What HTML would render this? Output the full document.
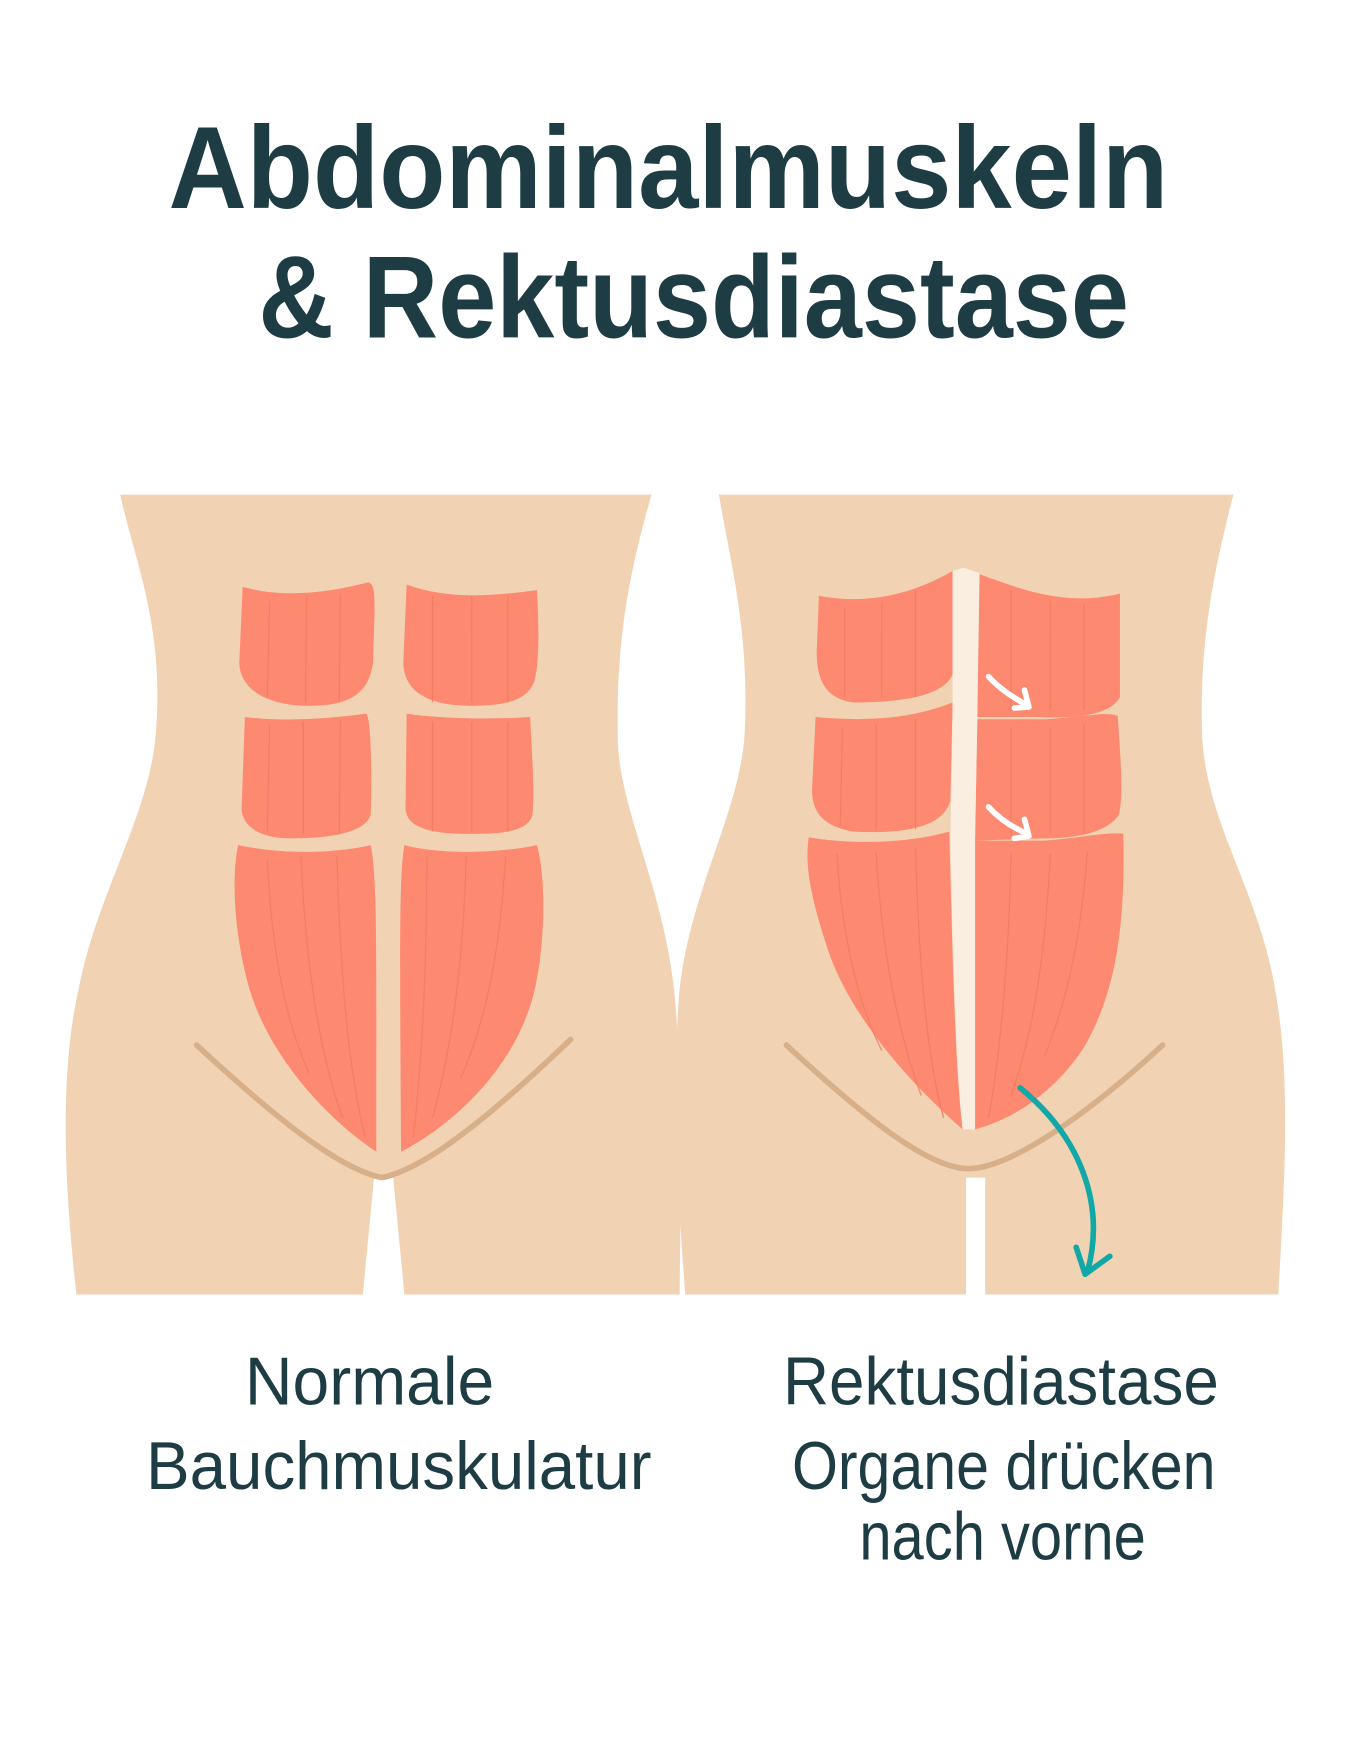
<!DOCTYPE html>
<html><head><meta charset="utf-8"><style>
html,body{margin:0;padding:0;background:#fff}
svg{display:block}
</style></head><body>
<svg width="1348" height="1761" viewBox="0 0 1200 1567" xmlns="http://www.w3.org/2000/svg">
<rect width="1200" height="1567" fill="#fff"/>
<g font-family="Liberation Sans, sans-serif" fill="#1d3c44">
<text x="150" y="185" font-size="104" font-weight="bold" textLength="890" lengthAdjust="spacingAndGlyphs">Abdominalmuskeln</text>
<text x="230" y="300" font-size="104" font-weight="bold" textLength="775" lengthAdjust="spacingAndGlyphs">&amp; Rektusdiastase</text>
<g font-size="60">
<text x="218" y="1250" textLength="222" lengthAdjust="spacingAndGlyphs">Normale</text>
<text x="130" y="1325" textLength="450" lengthAdjust="spacingAndGlyphs">Bauchmuskulatur</text>
<text x="697" y="1250" textLength="388" lengthAdjust="spacingAndGlyphs">Rektusdiastase</text>
<text x="705" y="1325" textLength="377" lengthAdjust="spacingAndGlyphs">Organe drücken</text>
<text x="765" y="1388" textLength="255" lengthAdjust="spacingAndGlyphs">nach vorne</text>
</g></g>
<path fill="#f1d3b4" d="M107,440 L580,440 C560,510 548,570 550,660 C552,720 590,790 600,880 C608,960 606,1060 605,1152 L360,1152 L350,1048 L333,1048 L323,1152 L68,1152 C58,1060 52,960 70,880 C85,800 130,730 138,660 C148,560 120,500 107,440 Z"/>
<path fill="#f1d3b4" d="M640,440 L1098,440 C1080,510 1068,570 1070,650 C1072,730 1120,790 1135,880 C1150,960 1143,1060 1138,1152 L877,1152 L877,1048 L860,1048 L860,1152 L610,1152 C603,1060 598,960 605,880 C615,790 660,720 663,650 C667,560 650,500 640,440 Z"/>
<g fill="none" stroke="#d7b08a" stroke-width="5" stroke-linecap="round">
<path d="M175,930 C240,990 300,1040 340,1048 C380,1040 440,990 508,925"/>
<path d="M700,930 C765,990 825,1040 862,1040 C900,1040 970,990 1035,930"/>
</g>
<g fill="#fd8a70">
<path d="M216,522 C250,532 290,528 328,518 C334,520 334,530 333,560 L332,590 C328,618 310,628 275,628 C240,628 214,615 213,590 Z"/>
<path d="M362,520 C400,534 440,530 478,525 C480,560 480,590 476,605 C470,625 445,628 420,628 C380,628 360,615 359,590 Z"/>
<path d="M218,638 C250,642 290,640 326,635 C331,640 331,700 330,725 C325,742 290,746 260,746 C230,746 216,735 215,720 Z"/>
<path d="M362,635 C395,640 440,640 472,638 C474,680 476,705 474,725 C470,742 440,742 415,742 C380,742 362,735 361,720 Z"/>
<path d="M212,752 C250,760 295,760 330,752 C336,780 335,850 335,1025 C290,995 240,940 222,880 C208,830 206,780 212,752 Z"/>
<path d="M360,752 C390,760 440,760 478,752 C486,780 486,840 475,885 C458,950 405,1000 357,1025 C356,850 355,780 360,752 Z"/>
<path d="M729,530 C770,538 810,530 848,508 L848,600 C840,620 800,625 760,625 C735,622 727,605 727,580 Z"/>
<path d="M870,510 C910,525 950,540 997,528 L997,620 C990,635 960,640 925,638 L870,638 Z"/>
<path d="M726,638 C770,642 810,640 848,625 L846,712 C840,738 800,742 760,740 C730,735 722,720 723,700 Z"/>
<path d="M870,640 L925,640 C950,640 985,632 995,637 C998,680 1000,710 996,725 C985,742 955,746 930,746 L868,748 Z"/>
<path d="M720,745 C760,752 810,750 845,740 C848,850 850,950 857,1005 C805,960 755,900 737,845 C722,800 716,770 720,745 Z"/>
<path d="M868,748 L930,748 C960,746 985,740 1000,742 C1002,830 992,885 965,932 C940,970 905,995 868,1005 Z"/>
</g>
<g stroke="#f07a62" stroke-width="1.2" fill="none" opacity="0.8">
<path d="M240,535 L238,620 M273,530 L272,625 M303,528 L302,625"/>
<path d="M385,530 L385,625 M420,530 L420,625 M452,530 L452,625"/>
<path d="M240,645 L238,740 M270,642 L270,742 M303,640 L302,742"/>
<path d="M385,642 L385,740 M420,642 L420,740 M452,642 L452,740"/>
<path d="M238,765 C242,850 255,910 275,955 M268,762 C272,860 285,940 305,995 M300,762 C303,870 310,950 325,1012"/>
<path d="M380,762 C380,870 375,950 368,1012 M415,762 C412,870 400,940 385,995 M450,762 C445,850 432,910 410,960"/>
<path d="M752,540 L752,620 M785,535 L785,620 M815,525 L815,620"/>
<path d="M900,525 L900,632 M935,535 L935,632 M965,538 L965,632"/>
<path d="M750,648 L748,735 M780,645 L780,738 M815,640 L815,738"/>
<path d="M900,648 L900,742 M935,648 L935,742 M965,645 L965,742"/>
<path d="M745,760 C750,840 765,895 785,935 M780,758 C785,850 800,920 820,975 M815,755 C818,860 825,940 840,995"/>
<path d="M900,760 C898,860 890,940 880,995 M935,760 C930,860 918,925 900,975 M968,758 C962,840 948,895 930,940"/>
</g>
<path fill="#faeee0" d="M848,508 L858,505 L872,510 L870,640 L868,748 L868,1005 L857,1005 C851,950 848,850 846,745 L848,640 Z"/>
<g fill="none" stroke="#fff" stroke-width="5" stroke-linecap="round" stroke-linejoin="round">
<path d="M880,602 C892,615 905,622 915,628 M903,630 L916,629 L912,614"/>
<path d="M880,718 C892,731 905,738 915,742 M903,746 L916,744 L912,729"/>
</g>
<g fill="none" stroke="#13a8a8" stroke-width="5" stroke-linecap="round" stroke-linejoin="round">
<path d="M908,968 C960,1010 985,1070 968,1132"/>
<path d="M958,1110 L966,1134 L988,1118"/>
</g>
</svg>
</body></html>
